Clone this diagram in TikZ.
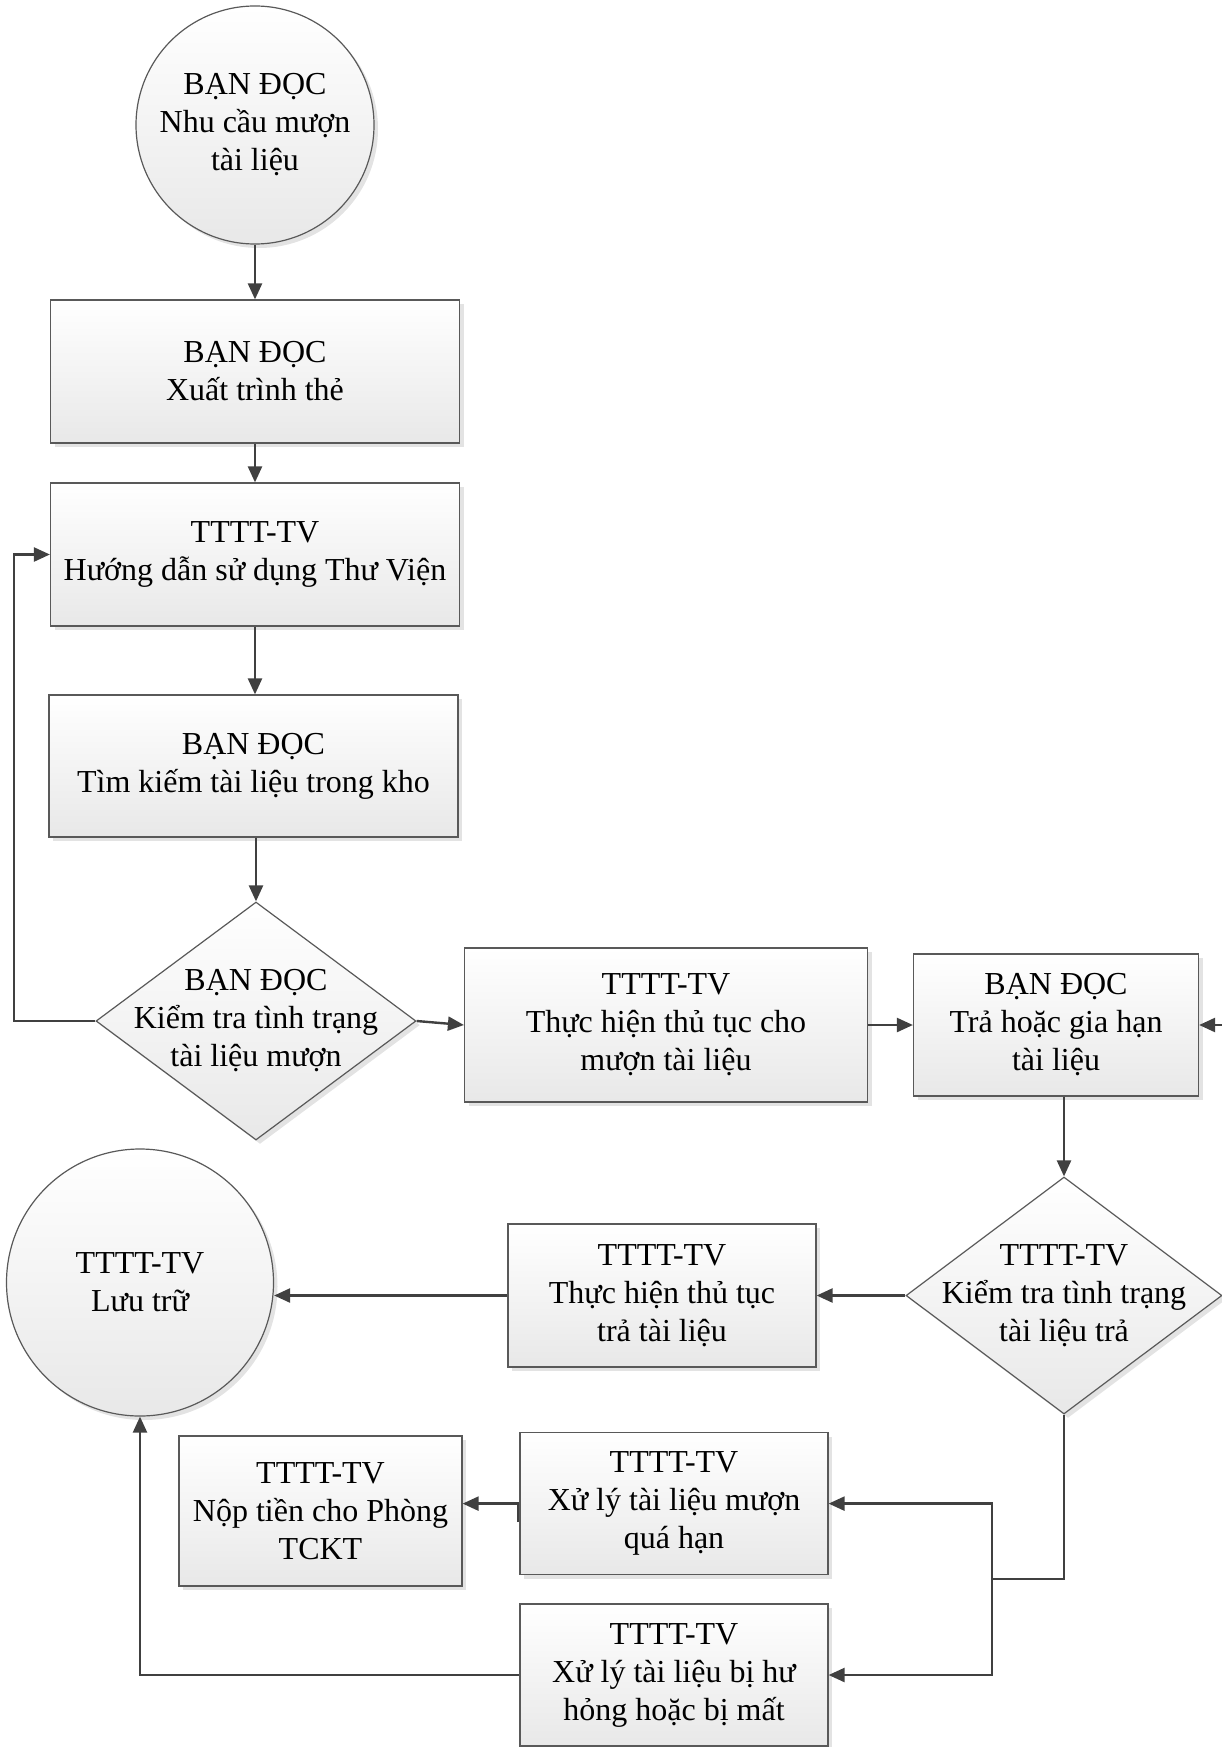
\documentclass[tikz,border=0pt]{standalone}
\usepackage{fontspec}
\setmainfont{Liberation Serif}
\usetikzlibrary{shapes.geometric,shadows,arrows.meta}
\tikzset{
  >={Triangle[length=16pt,width=14pt]},
  filled/.style={draw=black!65,line width=1.2pt,top color=white,bottom color=black!9,
    drop shadow={shadow xshift=4pt,shadow yshift=-4pt,fill=black!11,opacity=1},inner sep=0pt},
  box/.style={filled,rectangle},
  endpoint/.style={filled,circle},
  check/.style={filled,diamond}
}
\begin{document}
\begin{tikzpicture}[x=1pt,y=-1pt]
  \useasboundingbox (0,0) rectangle (1222,1747);
  \begin{scope}[every node/.style={font=\fontsize{32}{38}\selectfont,align=center}]
    \node[endpoint,minimum size=238pt] (c1) at (255,125) {BẠN ĐỌC\\Nhu cầu mượn\\tài liệu};
    \node[box,minimum width=409pt,minimum height=143pt] (b1) at (255,371.5) {BẠN ĐỌC\\Xuất trình thẻ};
    \node[box,minimum width=409pt,minimum height=143pt] (b2) at (255,554.5) {TTTT-TV\\Hướng dẫn sử dụng Thư Viện};
    \node[box,minimum width=409pt,minimum height=142pt] (b3) at (253.5,766) {BẠN ĐỌC\\Tìm kiếm tài liệu trong kho};
    \node[check,minimum width=320pt,minimum height=238pt,
      label={[name=d1t]center:{BẠN ĐỌC\\Kiểm tra tình trạng\\tài liệu mượn}}] (d1) at (256,1021) {};
    \node[box,minimum width=403pt,minimum height=154pt] (b4) at (666,1025) {TTTT-TV\\Thực hiện thủ tục cho\\mượn tài liệu};
    \node[box,minimum width=285pt,minimum height=142pt] (b5) at (1056,1025) {BẠN ĐỌC\\Trả hoặc gia hạn\\tài liệu};
    \node[check,minimum width=316pt,minimum height=237pt,
      label={[name=d2t]center:{TTTT-TV\\Kiểm tra tình trạng\\tài liệu trả}}] (d2) at (1064,1295.5) {};
    \node[box,minimum width=308pt,minimum height=143pt] (b6) at (662,1295.5) {TTTT-TV\\Thực hiện thủ tục\\trả tài liệu};
    \node[endpoint,minimum size=267pt] (c2) at (140,1282.5) {TTTT-TV\\Lưu trữ};
    \node[box,minimum width=308pt,minimum height=142pt] (b7) at (674,1503.6) {TTTT-TV\\Xử lý tài liệu mượn\\quá hạn};
    \node[box,minimum width=308pt,minimum height=142pt] (b8) at (674,1675) {TTTT-TV\\Xử lý tài liệu bị hư\\hỏng hoặc bị mất};
    \node[box,minimum width=283pt,minimum height=150pt] (b9) at (320.5,1511) {TTTT-TV\\Nộp tiền cho Phòng\\TCKT};
  \end{scope}
  \coordinate (lp) at (14,1021);
  \coordinate (inR) at (1222,1025);
  \coordinate (jn) at (992,1579);
  \coordinate (j1) at (518,1522);
  \begin{scope}[every path/.style={->,black!75,line width=2.4pt}]
    \path (c1) edge (b1);
    \path (b1) edge (b2);
    \path (b2.south) edge (b2.south |- b3.north);
    \path (b3.south -| d1.north) edge (d1.north);
    \path (d1.east) edge (b4.west);
    \path (b4) edge (b5);
    \path (inR) edge (b5.east);
    \path (b5.south -| d2.north) edge (d2.north);
    \path (d2.west) edge (b6.east);
    \path (b6.west) edge (b6.west -| c2.east);
    \draw (d1.west) -- (lp) |- (b2.west);
    \draw[-] (d2.south) |- (jn);
    \draw (jn) |- (b7.east);
    \draw (jn) |- (b8.east);
    \draw (j1) |- (b9.east |- b7.west);
    \draw (b8.west) -| (c2.south);
  \end{scope}
\end{tikzpicture}
\end{document}
